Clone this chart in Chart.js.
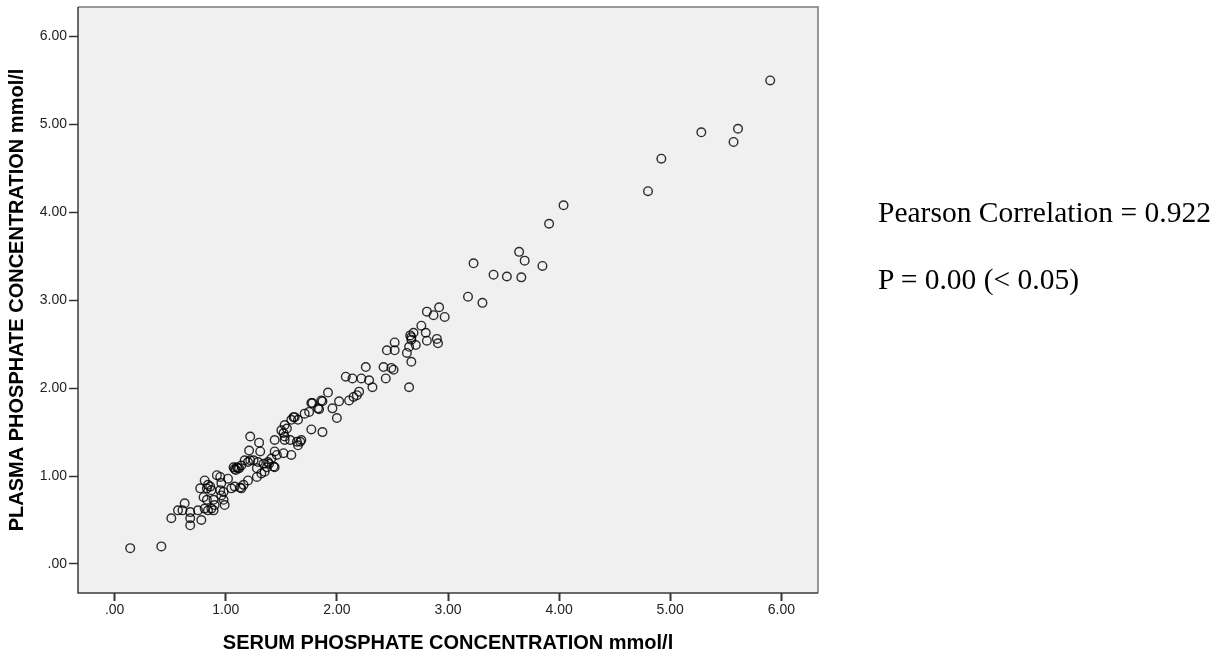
<!DOCTYPE html>
<html>
<head>
<meta charset="utf-8">
<script src="https://cdn.jsdelivr.net/npm/chart.js@4.4.1/dist/chart.umd.min.js"></script>
<style>
  html, body { margin: 0; padding: 0; background: #ffffff; }
  #wrap { position: relative; width: 1217px; height: 656px; }
  canvas { position: absolute; left: 0; top: 0; }
  .note { position: absolute; left: 878px; font-family: "Times New Roman", "Liberation Serif", serif; font-size: 29.5px; line-height: 29px; color: #000; white-space: nowrap; }
</style>
</head>
<body>
<div id="wrap">
  <canvas id="c" width="1217" height="656"></canvas>
  <div class="note" style="top:198px;">Pearson Correlation = 0.922</div>
  <div class="note" style="top:265px;">P = 0.00 (&lt; 0.05)</div>
</div>
<script>
// ---- data ----
const serumX = [
  0.14,0.42,0.51,0.57,0.61,0.63,0.68,0.68,0.68,0.75,0.78,
  0.77,0.81,0.80,0.84,0.83,0.86,0.87,0.83,0.89,0.90,0.87,0.84,0.81,0.89,
  0.95,0.98,0.96,0.98,0.99,0.92,0.95,0.96,1.02,1.05,1.08,1.14,1.16,1.20,1.13,
  1.07,1.08,1.10,1.09,1.12,1.14,1.11,1.17,1.20,1.22,1.25,1.29,
  1.22,1.30,1.21,1.31,1.44,1.44,
  1.28,1.32,1.35,1.28,1.34,1.37,1.38,1.41,1.44,1.39,1.43,1.46,
  1.52,1.59,
  1.50,1.52,1.53,1.55,1.53,1.53,1.58,1.64,1.67,1.65,1.68,
  1.61,1.65,1.59,1.62,1.71,1.75,1.77,1.78,1.83,1.84,1.86,1.87,
  1.77,1.87,
  1.92,1.96,2.00,2.02,2.11,2.15,2.18,2.20,
  2.08,2.14,2.22,2.29,2.32,2.26,
  2.42,2.49,2.51,2.44,2.45,2.52,2.52,
  2.63,2.67,2.65,2.66,2.69,2.67,2.71,2.65,2.67,
  2.76,2.80,2.81,2.90,2.91,
  2.81,2.87,2.92,2.97,
  3.18,3.31,3.23,3.41,3.53,3.66,3.64,3.69,3.85,3.91,4.04,4.80,4.92,5.28,5.61,5.57,5.90
];
const plasmaY = [
  0.18,0.20,0.52,0.61,0.61,0.69,0.59,0.52,0.44,0.61,0.50,
  0.86,0.95,0.76,0.90,0.86,0.88,0.84,0.73,0.73,0.67,0.63,0.61,0.63,0.61,
  0.84,0.82,0.78,0.73,0.67,1.01,0.99,0.92,0.97,0.86,0.88,0.86,0.90,0.95,0.87,
  1.10,1.08,1.10,1.07,1.09,1.12,1.09,1.18,1.16,1.18,1.18,1.16,
  1.45,1.38,1.29,1.28,1.41,1.28,
  0.99,1.03,1.05,1.09,1.14,1.10,1.16,1.20,1.10,1.14,1.11,1.24,
  1.26,1.24,
  1.52,1.49,1.58,1.54,1.45,1.41,1.41,1.39,1.39,1.35,1.41,
  1.67,1.64,1.64,1.67,1.71,1.73,1.83,1.83,1.77,1.76,1.86,1.85,
  1.53,1.50,
  1.95,1.77,1.66,1.85,1.86,1.90,1.92,1.96,
  2.13,2.11,2.11,2.09,2.01,2.24,
  2.24,2.23,2.21,2.11,2.43,2.43,2.52,
  2.40,2.30,2.01,2.60,2.63,2.55,2.49,2.47,2.58,
  2.71,2.63,2.54,2.56,2.51,
  2.87,2.83,2.92,2.81,
  3.04,2.97,3.42,3.29,3.27,3.26,3.55,3.45,3.39,3.87,4.08,4.24,4.61,4.91,4.95,4.80,5.50
];
const tickValues = [0, 1, 2, 3, 4, 5, 6];
const xTickLabels = ['.00', '1.00', '2.00', '3.00', '4.00', '5.00', '6.00'];
const yTickLabels = ['.00', '1.00', '2.00', '3.00', '4.00', '5.00', '6.00'];
const xTitle = 'SERUM PHOSPHATE CONCENTRATION mmol/l';
const yTitle = 'PLASMA PHOSPHATE CONCENTRATION mmol/l';

const points = serumX.map((x, i) => ({ x: x, y: plasmaY[i] }));

const frame = {
  id: 'frame',
  beforeDatasetsDraw(chart) {
    const { ctx, chartArea: a } = chart;
    ctx.save();
    ctx.fillStyle = '#f0f0f0';
    ctx.fillRect(a.left, a.top, a.right - a.left, a.bottom - a.top);
    ctx.restore();
  },
  afterDatasetsDraw(chart) {
    const { ctx, chartArea: a } = chart;
    ctx.save();
    ctx.lineWidth = 1.5;
    ctx.strokeStyle = '#7a7a7a';
    ctx.beginPath();
    ctx.moveTo(a.left, a.top); ctx.lineTo(a.right, a.top); ctx.lineTo(a.right, a.bottom);
    ctx.stroke();
    ctx.strokeStyle = '#3a3a3a';
    ctx.beginPath();
    ctx.moveTo(a.left, a.top); ctx.lineTo(a.left, a.bottom); ctx.lineTo(a.right, a.bottom);
    ctx.stroke();
    ctx.restore();
  }
};

const tickFont = { family: "Arial, 'Liberation Sans', sans-serif", size: 14 };
const titleFont = { family: "Arial, 'Liberation Sans', sans-serif", size: 20, weight: 'bold' };

new Chart(document.getElementById('c'), {
  type: 'scatter',
  data: {
    datasets: [{
      data: points,
      pointStyle: 'circle',
      pointRadius: 4.3,
      pointHoverRadius: 4.3,
      pointBorderWidth: 1.4,
      borderColor: 'rgba(0,0,0,0.82)',
      backgroundColor: 'rgba(0,0,0,0)'
    }]
  },
  options: {
    responsive: false,
    animation: false,
    layout: { padding: { top: 7, right: 399, left: 0, bottom: 0 } },
    plugins: { legend: { display: false }, tooltip: { enabled: false } },
    scales: {
      x: {
        type: 'linear',
        min: -0.33,
        max: 6.33,
        afterBuildTicks(s) { s.ticks = tickValues.map(v => ({ value: v })); },
        afterFit(s) { s.height = 63; s.paddingLeft = 0; s.paddingRight = 0; },
        border: { display: false },
        grid: { drawOnChartArea: false, drawTicks: true, tickLength: 8, tickWidth: 2, tickColor: '#333' },
        ticks: { padding: 1, color: '#222', font: tickFont, maxRotation: 0,
                 callback: (v, i) => xTickLabels[i] },
        title: { display: true, text: xTitle, color: '#000', font: titleFont, padding: { top: 0, bottom: 1 } }
      },
      y: {
        type: 'linear',
        min: -0.33,
        max: 6.335,
        afterBuildTicks(s) { s.ticks = tickValues.map(v => ({ value: v })); },
        afterFit(s) { s.width = 78; s.paddingTop = 0; s.paddingBottom = 0; },
        border: { display: false },
        grid: { drawOnChartArea: false, drawTicks: true, tickLength: 9, tickWidth: 1.5, tickColor: '#333' },
        ticks: { padding: 2, color: '#222', font: tickFont,
                 callback: (v, i) => yTickLabels[i] },
        title: { display: true, text: yTitle, color: '#000', font: titleFont, padding: { top: 5, bottom: 0 } }
      }
    }
  },
  plugins: [frame]
});
</script>
</body>
</html>
